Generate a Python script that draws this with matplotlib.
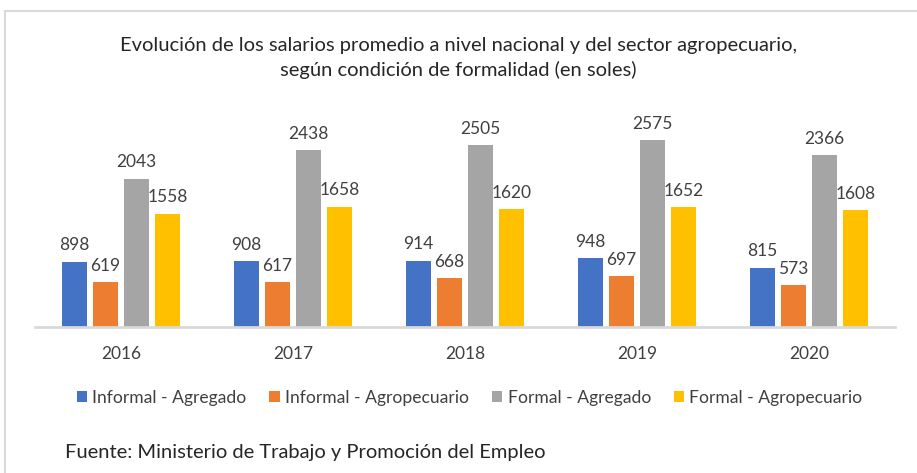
import matplotlib.pyplot as plt
from matplotlib.patches import Rectangle
import numpy as np

plt.rcParams['font.family'] = ['Lato', 'DejaVu Sans']

years = ['2016', '2017', '2018', '2019', '2020']
informal_agregado = [898, 908, 914, 948, 815]
informal_agro = [619, 617, 668, 697, 573]
formal_agregado = [2043, 2438, 2505, 2575, 2366]
formal_agro = [1558, 1658, 1620, 1652, 1608]

series = [
    ('Informal - Agregado', informal_agregado, '#4472C4'),
    ('Informal - Agropecuario', informal_agro, '#ED7D31'),
    ('Formal - Agregado', formal_agregado, '#A5A5A5'),
    ('Formal - Agropecuario', formal_agro, '#FFC000'),
]

fig = plt.figure(figsize=(9.17, 4.73), dpi=100)
fig.patches.append(Rectangle((5 / 917, -0.1), 1.2, 1 - 11 / 473 + 0.1,
                             transform=fig.transFigure, fill=False,
                             edgecolor='#d9d9d9', lw=1.5))

ax = fig.add_axes([35 / 917, 1 - 327 / 473, 860 / 917, 218 / 473])
x = np.arange(len(years))
w = 0.15
step = 0.18
for i, (name, vals, col) in enumerate(series):
    pos = x + (i - 1.5) * step
    bars = ax.bar(pos, vals, width=w, color=col, label=name)
    for b, v in zip(bars, vals):
        ax.annotate(str(v), (b.get_x() + b.get_width() / 2, v),
                    xytext=(0, 6), textcoords='offset points',
                    ha='center', va='bottom', fontsize=12.5, color='#404040')

ax.set_xlim(-0.5, 4.5)
ax.set_ylim(0, 3000)
ax.set_xticks(x)
ax.set_xticklabels(years, fontsize=12.5, color='#404040')
ax.tick_params(axis='x', length=0, pad=14)
ax.set_yticks([])
for s in ['top', 'right', 'left']:
    ax.spines[s].set_visible(False)
ax.spines['bottom'].set_color('#d9d9d9')
ax.spines['bottom'].set_linewidth(2)

fig.text(0.5, 1 - 45 / 473, 'Evolución de los salarios promedio a nivel nacional y del sector agropecuario,',
         ha='center', va='center', fontsize=14.5, color='#262626')
fig.text(0.5, 1 - 70 / 473, 'según condición de formalidad (en soles)',
         ha='center', va='center', fontsize=14.5, color='#262626')

fig.legend(loc='center', bbox_to_anchor=(0.512, 1 - 398 / 473), ncol=4, frameon=False,
           fontsize=12.6, handlelength=0.6, handleheight=0.6, handletextpad=0.3,
           columnspacing=1.3, labelcolor='#404040')

fig.text(65 / 917, 1 - 452 / 473, 'Fuente: Ministerio de Trabajo y Promoción del Empleo',
         ha='left', va='center', fontsize=14.5, color='#262626')

fig.savefig('out.png', dpi=100)
